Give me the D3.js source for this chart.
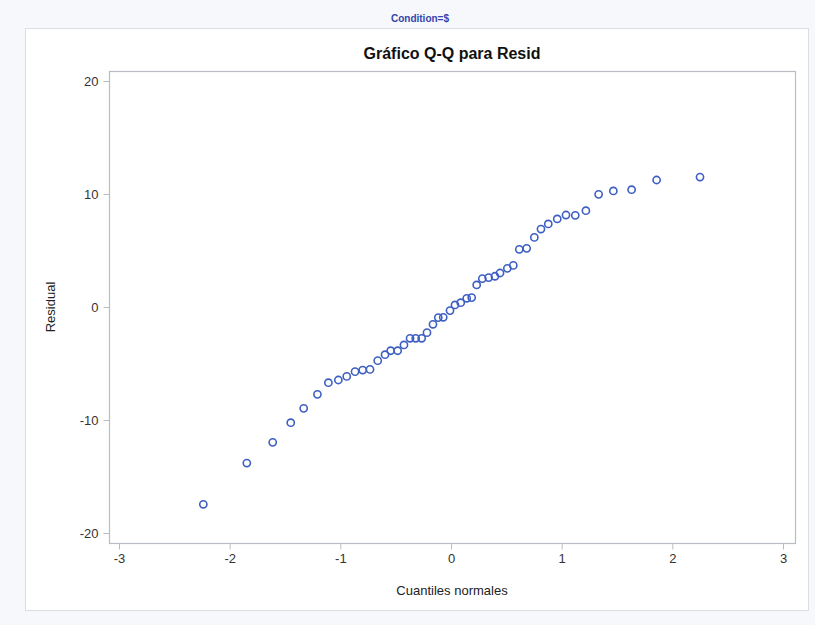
<!DOCTYPE html>
<html>
<head>
<meta charset="utf-8">
<script src="https://cdn.jsdelivr.net/npm/d3@7"></script>
<style>
  body { margin: 0; background: #f7f8fc; }
  svg { display: block; font-family: "Liberation Sans", Arial, sans-serif; }
</style>
</head>
<body>
<svg id="chart" width="815" height="625"></svg>
<script>
// Normal quantiles (x) and residuals (y)
const quantiles = [
  -2.238, -1.845, -1.611, -1.448, -1.331, -1.207, -1.108, -1.018, -0.942, -0.867,
  -0.798, -0.732, -0.662, -0.596, -0.545, -0.482, -0.425, -0.370, -0.319, -0.265,
  -0.217, -0.163, -0.115, -0.070, -0.009, 0.036, 0.088, 0.142, 0.187, 0.232,
  0.283, 0.340, 0.397, 0.443, 0.509, 0.563, 0.617, 0.684, 0.753, 0.813,
  0.879, 0.960, 1.039, 1.123, 1.219, 1.334, 1.467, 1.632, 1.858, 2.250
];
const residuals = [
  -17.46, -13.81, -11.98, -10.24, -8.97, -7.73, -6.70, -6.46, -6.14, -5.72,
  -5.58, -5.52, -4.75, -4.22, -3.87, -3.87, -3.36, -2.77, -2.77, -2.77,
  -2.27, -1.53, -0.94, -0.91, -0.32, 0.18, 0.38, 0.77, 0.83, 1.95,
  2.51, 2.60, 2.72, 3.01, 3.42, 3.68, 5.10, 5.19, 6.16, 6.90,
  7.35, 7.79, 8.14, 8.11, 8.52, 9.97, 10.27, 10.38, 11.24, 11.50
];
const xTicks = [-3, -2, -1, 0, 1, 2, 3];
const yTicks = [-20, -10, 0, 10, 20];

const svg = d3.select("#chart");

// outer white panel
svg.append("rect")
  .attr("x", 25.5).attr("y", 28.5)
  .attr("width", 783).attr("height", 582)
  .attr("fill", "#ffffff")
  .attr("stroke", "#dcdee3");

// group label
svg.append("text")
  .attr("x", 420).attr("y", 22)
  .attr("text-anchor", "middle")
  .attr("font-size", "10px")
  .attr("font-weight", "bold")
  .attr("fill", "#3344aa")
  .text("Condition=$");

// plot frame
const frame = { left: 109.5, top: 71.5, right: 795.5, bottom: 543.5 };

const x = d3.scaleLinear().domain([-3, 3]).range([119, 783]);
const y = d3.scaleLinear().domain([-20, 20]).range([533, 81]);

svg.append("rect")
  .attr("x", frame.left).attr("y", frame.top)
  .attr("width", frame.right - frame.left)
  .attr("height", frame.bottom - frame.top)
  .attr("fill", "none")
  .attr("stroke", "#b9bcc2")
  .attr("stroke-width", 1.2);

// title
svg.append("text")
  .attr("x", 452).attr("y", 59)
  .attr("text-anchor", "middle")
  .attr("font-size", "16px")
  .attr("font-weight", "bold")
  .attr("fill", "#111")
  .text("Gráfico Q-Q para Resid");

// plain hyphen for negatives, like the original
const fmt = (d) => String(d);

// x axis
const xAxis = svg.append("g")
  .attr("transform", `translate(0,${frame.bottom})`)
  .call(d3.axisBottom(x).tickValues(xTicks).tickSize(6).tickPadding(4).tickFormat(fmt));
xAxis.select(".domain").remove();
xAxis.selectAll(".tick line").attr("stroke", "#b9bcc2");
xAxis.selectAll(".tick text")
  .attr("font-size", "13px").attr("fill", "#333")
  .attr("font-family", "Liberation Sans, Arial, sans-serif");

// y axis
const yAxis = svg.append("g")
  .attr("transform", `translate(${frame.left},0)`)
  .call(d3.axisLeft(y).tickValues(yTicks).tickSize(6).tickPadding(5).tickFormat(fmt));
yAxis.select(".domain").remove();
yAxis.selectAll(".tick line").attr("stroke", "#b9bcc2");
yAxis.selectAll(".tick text")
  .attr("font-size", "13px").attr("fill", "#333")
  .attr("font-family", "Liberation Sans, Arial, sans-serif");

// axis labels
svg.append("text")
  .attr("x", 452).attr("y", 595)
  .attr("text-anchor", "middle")
  .attr("font-size", "13px")
  .attr("fill", "#222")
  .text("Cuantiles normales");

svg.append("text")
  .attr("transform", "translate(55,307) rotate(-90)")
  .attr("text-anchor", "middle")
  .attr("font-size", "13px")
  .attr("fill", "#222")
  .text("Residual");

// points
svg.append("g")
  .selectAll("circle")
  .data(quantiles.map((q, i) => ({ q: q, r: residuals[i] })))
  .join("circle")
  .attr("cx", (d) => x(d.q))
  .attr("cy", (d) => y(d.r))
  .attr("r", 3.6)
  .attr("fill", "none")
  .attr("stroke", "#3d5fc2")
  .attr("stroke-width", 1.6);
</script>
</body>
</html>
